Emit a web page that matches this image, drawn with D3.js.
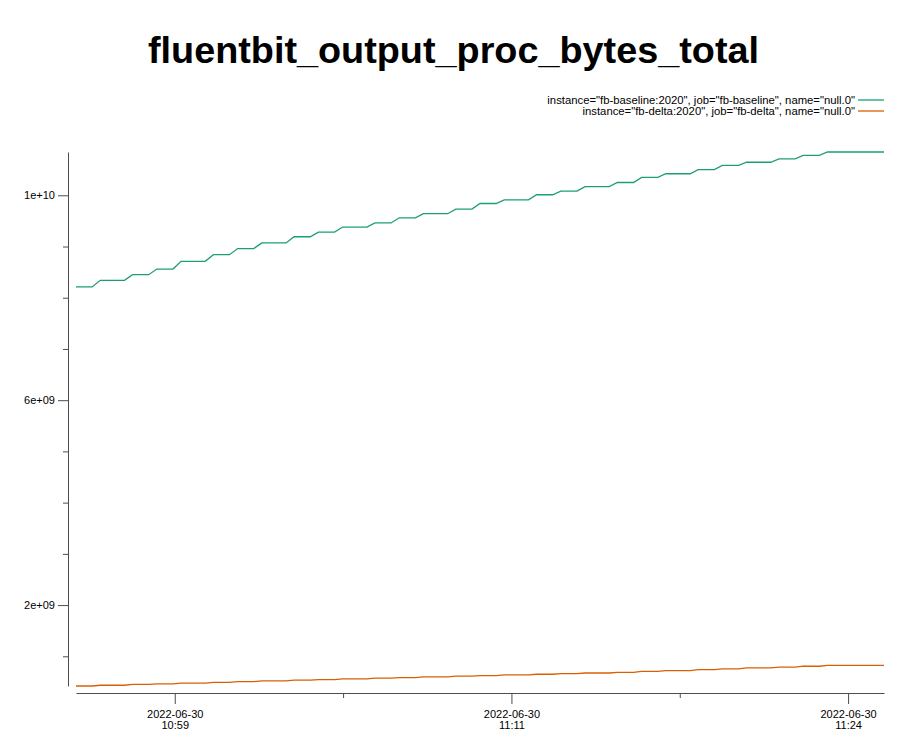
<!DOCTYPE html>
<html><head><meta charset="utf-8">
<script src="https://cdn.jsdelivr.net/npm/d3@7"></script>
<style>
body{margin:0;background:#fff}
svg{display:block;font-family:"Liberation Sans",Arial,sans-serif}
</style>
</head><body>
<svg id="c" width="907" height="756"></svg>
<script>
// ---- data ----
const chartTitle = "fluentbit_output_proc_bytes_total";
const seriesNames = [
  'instance="fb-baseline:2020", job="fb-baseline", name="null.0"',
  'instance="fb-delta:2020", job="fb-delta", name="null.0"'
];
const seriesColors = ["#1b9e77", "#d95f02"];
// Prometheus range query: regular samples
const startTime = "2022-06-30T10:55:00";
const stepSeconds = 18;
const baselineValues = [
  8.21e9, 8.21e9, 8.21e9,
  8.34e9, 8.34e9, 8.34e9, 8.34e9,
  8.45e9, 8.45e9, 8.45e9,
  8.56e9, 8.56e9, 8.56e9,
  8.71e9, 8.71e9, 8.71e9, 8.71e9,
  8.84e9, 8.84e9, 8.84e9,
  8.96e9, 8.96e9, 8.96e9,
  9.07e9, 9.07e9, 9.07e9, 9.07e9,
  9.19e9, 9.19e9, 9.19e9,
  9.28e9, 9.28e9, 9.28e9,
  9.38e9, 9.38e9, 9.38e9, 9.38e9,
  9.46e9, 9.46e9, 9.46e9,
  9.56e9, 9.56e9, 9.56e9,
  9.64e9, 9.64e9, 9.64e9, 9.64e9,
  9.73e9, 9.73e9, 9.73e9,
  9.84e9, 9.84e9, 9.84e9,
  9.91e9, 9.91e9, 9.91e9, 9.91e9,
  10.01e9, 10.01e9, 10.01e9,
  10.08e9, 10.08e9, 10.08e9,
  10.17e9, 10.17e9, 10.17e9, 10.17e9,
  10.25e9, 10.25e9, 10.25e9,
  10.35e9, 10.35e9, 10.35e9,
  10.42e9, 10.42e9, 10.42e9, 10.42e9,
  10.50e9, 10.50e9, 10.50e9,
  10.585e9, 10.585e9, 10.585e9,
  10.645e9, 10.645e9, 10.645e9, 10.645e9,
  10.71e9, 10.71e9, 10.71e9,
  10.78e9, 10.78e9, 10.78e9,
  10.845e9, 10.845e9, 10.845e9, 10.845e9, 10.845e9, 10.845e9, 10.845e9, 10.845e9
];
const deltaValues = [
  4.20e8, 4.20e8, 4.20e8,
  4.35e8, 4.35e8, 4.35e8, 4.35e8,
  4.50e8, 4.50e8, 4.50e8,
  4.63e8, 4.63e8, 4.63e8,
  4.78e8, 4.78e8, 4.78e8, 4.78e8,
  4.92e8, 4.92e8, 4.92e8,
  5.06e8, 5.06e8, 5.06e8,
  5.20e8, 5.20e8, 5.20e8, 5.20e8,
  5.33e8, 5.33e8, 5.33e8,
  5.46e8, 5.46e8, 5.46e8,
  5.59e8, 5.59e8, 5.59e8, 5.59e8,
  5.72e8, 5.72e8, 5.72e8,
  5.85e8, 5.85e8, 5.85e8,
  5.98e8, 5.98e8, 5.98e8, 5.98e8,
  6.11e8, 6.11e8, 6.11e8,
  6.24e8, 6.24e8, 6.24e8,
  6.36e8, 6.36e8, 6.36e8, 6.36e8,
  6.49e8, 6.49e8, 6.49e8,
  6.62e8, 6.62e8, 6.62e8,
  6.74e8, 6.74e8, 6.74e8, 6.74e8,
  6.87e8, 6.87e8, 6.87e8,
  7.04e8, 7.04e8, 7.04e8,
  7.21e8, 7.21e8, 7.21e8, 7.21e8,
  7.38e8, 7.38e8, 7.38e8,
  7.55e8, 7.55e8, 7.55e8,
  7.72e8, 7.72e8, 7.72e8, 7.72e8,
  7.89e8, 7.89e8, 7.89e8,
  8.06e8, 8.06e8, 8.06e8,
  8.23e8, 8.23e8, 8.23e8, 8.23e8, 8.23e8, 8.23e8, 8.23e8, 8.23e8
];
const yMajorTicks = [2e9, 6e9, 1e10];
const yMajorLabels = ["2e+09", "6e+09", "1e+10"];
const yMinorTicks = [1e9, 3e9, 4e9, 5e9, 7e9, 8e9, 9e9];
const xMajorTicks = ["2022-06-30T10:58:40", "2022-06-30T11:11:10", "2022-06-30T11:23:40"];
const xMajorLabels = [["2022-06-30", "10:59"], ["2022-06-30", "11:11"], ["2022-06-30", "11:24"]];
const xMinorTicks = ["2022-06-30T11:04:55", "2022-06-30T11:17:25"];

// ---- build ----
const parse = d3.timeParse("%Y-%m-%dT%H:%M:%S");
const t0 = parse(startTime);
const times = baselineValues.map((_, i) => new Date(t0.getTime() + i * stepSeconds * 1000));
const series = [baselineValues, deltaValues].map((vals, k) => ({
  name: seriesNames[k], color: seriesColors[k],
  points: vals.map((v, i) => ({t: times[i], v}))
}));

const svg = d3.select("#c");
const W = 907, H = 756;
const plot = {left: 76, right: 884, top: 152, bottom: 686};

const x = d3.scaleTime().domain(d3.extent(times)).range([plot.left, plot.right]);
const allVals = baselineValues.concat(deltaValues);
const y = d3.scaleLinear().domain(d3.extent(allVals)).range([plot.bottom, plot.top]);

// title
svg.append("text").attr("x", W / 2).attr("y", 63).attr("text-anchor", "middle")
  .attr("font-size", 37.8).attr("font-weight", "bold").attr("fill", "#000").text(chartTitle);

// legend
const leg = svg.append("g");
series.forEach((s, i) => {
  const cy = 100 + i * 11;
  leg.append("text").attr("x", 855).attr("y", cy + 4).attr("text-anchor", "end")
    .attr("font-size", 11.3).attr("fill", "#000").text(s.name);
  leg.append("line").attr("x1", 858).attr("x2", 884).attr("y1", cy).attr("y2", cy)
    .attr("stroke", s.color).attr("stroke-width", 1.3);
});

const axisColor = "#4d4d4d";
function styleAxis(g) {
  g.selectAll("path.domain").attr("stroke", axisColor);
  g.selectAll(".tick line").attr("stroke", axisColor);
  g.selectAll(".tick text").attr("fill", "#000").attr("font-family", "Liberation Sans, Arial, sans-serif");
}

// y axis
const gyMinor = svg.append("g").attr("transform", "translate(68,0)")
  .call(d3.axisLeft(y).tickValues(yMinorTicks).tickSize(5).tickSizeOuter(0).tickFormat(""));
const gy = svg.append("g").attr("transform", "translate(68,0)")
  .call(d3.axisLeft(y).tickValues(yMajorTicks).tickSize(10).tickSizeOuter(0)
    .tickPadding(3).tickFormat((d, i) => yMajorLabels[i]));
gy.selectAll(".tick text").attr("font-size", 11);
gyMinor.select("path.domain").remove();
styleAxis(gy); styleAxis(gyMinor);

// x axis
const gxMinor = svg.append("g").attr("transform", "translate(0,693)")
  .call(d3.axisBottom(x).tickValues(xMinorTicks.map(parse)).tickSize(5).tickSizeOuter(0).tickFormat(""));
const gx = svg.append("g").attr("transform", "translate(0,693)")
  .call(d3.axisBottom(x).tickValues(xMajorTicks.map(parse)).tickSize(11).tickSizeOuter(0).tickFormat(""));
gxMinor.select("path.domain").remove();
gx.selectAll(".tick").each(function (d, i) {
  const t = d3.select(this).append("text").attr("fill", "#000").attr("font-size", 11)
    .attr("text-anchor", "middle");
  t.append("tspan").attr("x", 0).attr("y", 25).text(xMajorLabels[i][0]);
  t.append("tspan").attr("x", 0).attr("y", 36).text(xMajorLabels[i][1]);
});
styleAxis(gx); styleAxis(gxMinor);

// lines
const line = d3.line().x(d => x(d.t)).y(d => y(d.v));
series.forEach(s => {
  svg.append("path").datum(s.points).attr("d", line).attr("fill", "none")
    .attr("stroke", s.color).attr("stroke-width", 1.3);
});
</script>
</body></html>
